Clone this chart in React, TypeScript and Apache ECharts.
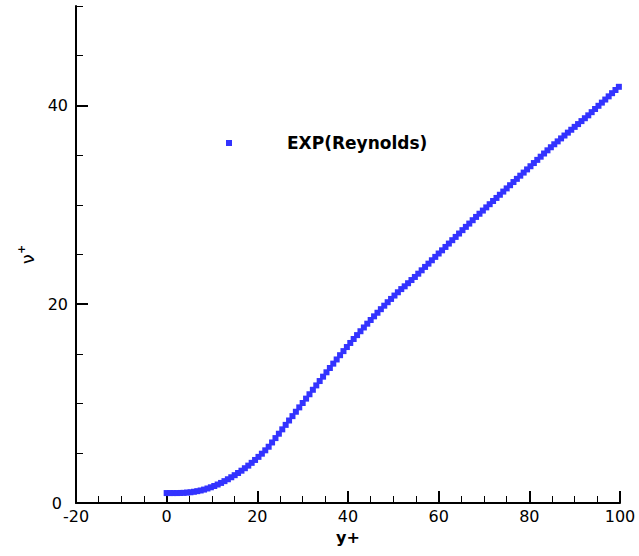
import React, { useEffect, useRef } from "react";
import * as echarts from "echarts";

// y+ positions of the measured points
const yPlus: number[] = [
  0, 0.75, 1.5, 2.25, 3, 3.75, 4.5, 5.25, 6, 6.75, 7.5, 8.25, 9, 9.75, 10.5, 11.25,
  12, 12.75, 13.5, 14.25, 15, 15.75, 16.5, 17.25, 18, 18.75, 19.5, 20.25, 21, 21.75,
  22.5, 23.25, 24, 24.75, 25.5, 26.25, 27, 27.75, 28.5, 29.25, 30, 30.75, 31.5, 32.25,
  33, 33.75, 34.5, 35.25, 36, 36.75, 37.5, 38.25, 39, 39.75, 40.5, 41.25, 42, 42.75,
  43.5, 44.25, 45, 45.75, 46.5, 47.25, 48, 48.75, 49.5, 50.25, 51, 51.75, 52.5, 53.25,
  54, 54.75, 55.5, 56.25, 57, 57.75, 58.5, 59.25, 60, 60.75, 61.5, 62.25, 63, 63.75,
  64.5, 65.25, 66, 66.75, 67.5, 68.25, 69, 69.75, 70.5, 71.25, 72, 72.75, 73.5, 74.25,
  75, 75.75, 76.5, 77.25, 78, 78.75, 79.5, 80.25, 81, 81.75, 82.5, 83.25, 84, 84.75,
  85.5, 86.25, 87, 87.75, 88.5, 89.25, 90, 90.75, 91.5, 92.25, 93, 93.75, 94.5, 95.25,
  96, 96.75, 97.5, 98.25, 99, 99.75,
];

// nu+ values at those positions (EXP, Reynolds)
const nuPlus: number[] = [
  1.0, 1.0, 1.0, 1.0, 1.01, 1.02, 1.05, 1.08, 1.13, 1.19, 1.26, 1.35, 1.46, 1.58, 1.71, 1.86,
  2.02, 2.2, 2.39, 2.59, 2.8, 3.02, 3.25, 3.5, 3.76, 4.04, 4.33, 4.64, 4.96, 5.3,
  5.66, 6.09, 6.53, 6.97, 7.41, 7.86, 8.3, 8.74, 9.18, 9.62, 10.06, 10.5, 10.94, 11.39,
  11.83, 12.27, 12.71, 13.15, 13.58, 14.02, 14.44, 14.87, 15.28, 15.69, 16.1, 16.5, 16.89, 17.28,
  17.66, 18.04, 18.41, 18.78, 19.14, 19.5, 19.85, 20.2, 20.53, 20.87, 21.2, 21.52, 21.8, 22.11,
  22.43, 22.74, 23.07, 23.41, 23.75, 24.08, 24.42, 24.76, 25.1, 25.42, 25.76, 26.1, 26.44, 26.77,
  27.11, 27.45, 27.78, 28.11, 28.45, 28.78, 29.1, 29.42, 29.74, 30.06, 30.38, 30.69, 31.01, 31.33,
  31.65, 31.97, 32.29, 32.61, 32.93, 33.24, 33.56, 33.88, 34.2, 34.52, 34.84, 35.16, 35.48, 35.79,
  36.09, 36.38, 36.68, 36.97, 37.26, 37.55, 37.84, 38.12, 38.42, 38.71, 39.0, 39.32, 39.64, 39.96,
  40.28, 40.59, 40.91, 41.23, 41.55, 41.87,
];

const seriesName = "EXP(Reynolds)";
const yMajorTicks: number[] = [0, 20, 40];

const FONT = "DejaVu Sans";
const BLUE = "#3333ff";

export default function App() {
  const ref = useRef<HTMLDivElement>(null);

  useEffect(() => {
    if (!ref.current) return;
    const chart = echarts.init(ref.current, null, { renderer: "svg" });

    const gridBox = { left: 76, right: 19, top: 6, bottom: 53 };
    const labelStyle = { color: "#000", fontFamily: FONT, fontSize: 16 };

    chart.setOption({
      animation: false,
      backgroundColor: "#fff",
      grid: [gridBox, gridBox],
      legend: {
        data: [{ name: seriesName, icon: "rect", itemStyle: { color: BLUE, opacity: 1 } }],
        left: 221,
        top: 128,
        padding: 5,
        itemWidth: 6,
        itemHeight: 6,
        textStyle: {
          color: "#000",
          fontFamily: FONT,
          fontWeight: "bold",
          fontSize: 17,
          lineHeight: 20,
          padding: [0, 0, 0, 50],
        },
      },
      xAxis: [
        {
          type: "value",
          gridIndex: 0,
          min: -20,
          max: 100,
          interval: 20,
          name: "y+",
          nameLocation: "middle",
          nameGap: 26,
          nameTextStyle: { color: "#000", fontFamily: FONT, fontWeight: "bold", fontSize: 16 },
          axisLine: { show: true, onZero: false, lineStyle: { color: "#000", width: 2 } },
          axisTick: { show: true, inside: true, length: 12, lineStyle: { color: "#000", width: 2 } },
          minorTick: { show: true, splitNumber: 4, length: 7, lineStyle: { color: "#000", width: 1 } },
          splitLine: { show: false },
          axisLabel: { ...labelStyle, margin: 7, lineHeight: 12 },
        },
        { type: "value", gridIndex: 1, min: -20, max: 100, show: false },
      ],
      yAxis: [
        {
          type: "value",
          gridIndex: 0,
          min: 0,
          max: 50,
          interval: 10,
          name: "{v|ν}{p|+}",
          nameLocation: "middle",
          nameGap: 40,
          nameTextStyle: {
            rich: {
              v: { fontFamily: FONT, fontSize: 18, color: "#000", verticalAlign: "bottom", lineHeight: 20 },
              p: { fontFamily: FONT, fontSize: 11, fontWeight: "bold", color: "#000", verticalAlign: "top", lineHeight: 20 },
            },
          },
          axisLine: { show: true, onZero: false, lineStyle: { color: "#000", width: 2 } },
          axisTick: {
            show: true,
            inside: true,
            length: 12,
            customValues: yMajorTicks,
            lineStyle: { color: "#000", width: 2 },
          },
          splitLine: { show: false },
          axisLabel: {
            ...labelStyle,
            margin: 8,
            lineHeight: 12,
            customValues: yMajorTicks,
            // the zero label sits just left of the x axis' first label
            formatter: (v: number) => (v === 0 ? "{z|0}" : String(v)),
            rich: {
              z: { ...labelStyle, lineHeight: 12, padding: [0, 6, 0, 0] },
            },
          },
        },
        {
          // finer tick marks every 5 units on the same left edge
          type: "value",
          gridIndex: 1,
          min: 0,
          max: 50,
          interval: 5,
          axisLine: { show: false, onZero: false },
          axisTick: { show: true, inside: true, length: 7, lineStyle: { color: "#000", width: 1 } },
          axisLabel: { show: false },
          splitLine: { show: false },
        },
      ],
      series: [
        {
          name: seriesName,
          type: "scatter",
          xAxisIndex: 0,
          yAxisIndex: 0,
          symbol: "rect",
          symbolSize: 6,
          itemStyle: { color: BLUE, opacity: 1 },
          data: yPlus.map((x, i) => [x, nuPlus[i]]),
        },
      ],
    });

    return () => chart.dispose();
  }, []);

  return (
    <div
      ref={ref}
      style={{ position: "fixed", left: 0, top: 0, width: 639, height: 556, background: "#fff" }}
    />
  );
}
